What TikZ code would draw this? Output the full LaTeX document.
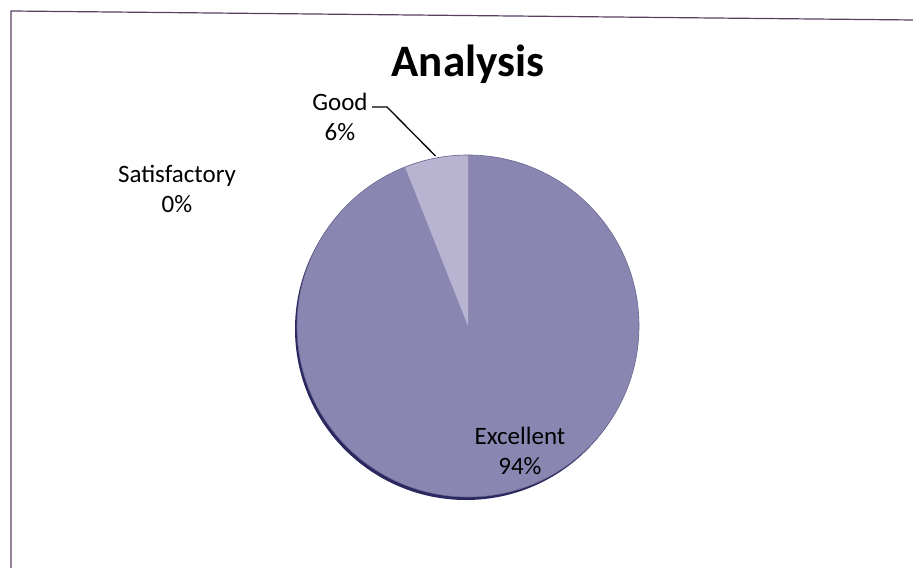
\documentclass[tikz,border=0pt]{standalone}
\usepackage{fontspec}
\usetikzlibrary{calc}
\setmainfont{Carlito}
\definecolor{pieMain}{HTML}{8A86B2}
\definecolor{pieGood}{HTML}{B8B3D0}
\definecolor{pieEdge}{HTML}{2B2760}
\definecolor{frameCol}{HTML}{5A4060}
\tikzset{
  lbl/.style={font=\fontsize{25}{30}\selectfont, align=center, text=black, inner sep=1pt},
  ttl/.style={font=\fontsize{45}{50}\selectfont\bfseries, text=black},
  leader/.style={draw=black, line width=1.3pt},
  frameline/.style={draw=frameCol, line width=1.2pt}
}
\begin{document}
\begin{tikzpicture}[x=1pt,y=1pt]
\useasboundingbox (0,0) rectangle (913,569);
\fill[white] (0,0) rectangle (913,569);
% scanned frame
\draw[frameline] (11,1) -- (11,558) -- (913,549);
% pie
\coordinate (C) at (468,243);
\fill[pieEdge] ($(C)+(-2,-3)$) circle (171);
\fill[pieMain] (C) circle (171);
\fill[pieGood] (C) -- ++(90:171) arc (90:111.6:171) -- cycle;
\draw[pieEdge!70, line width=0.6pt] (C) circle (171);
% labels
\node[ttl] (title) at (468,505) {Analysis};
\node[lbl] (good) at (340,452) {Good\\6\%};
\node[lbl] (sat) at (177,380) {Satisfactory\\0\%};
\node[lbl] (exc) at (520,118) {Excellent\\94\%};
% leader line
\coordinate (gA) at (372,462);
\coordinate (gB) at (387,462);
\coordinate (gC) at ($(C)+(100.8:173)$);
\draw[leader] (gA) -- (gB) -- (gC);
\end{tikzpicture}
\end{document}
